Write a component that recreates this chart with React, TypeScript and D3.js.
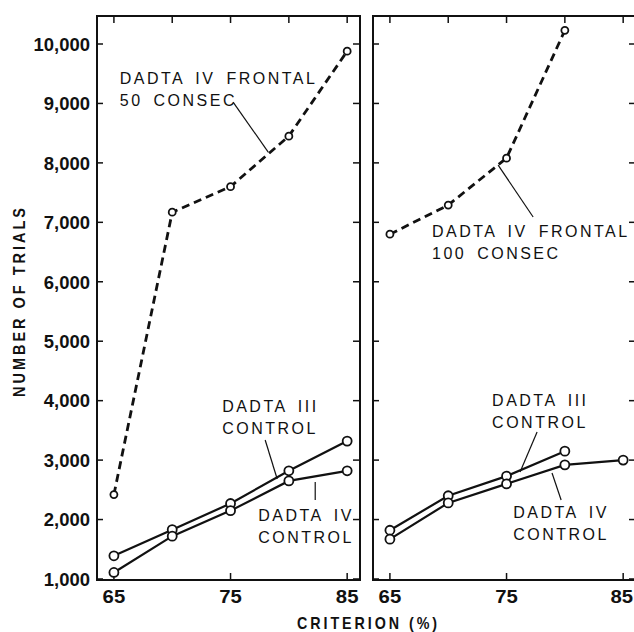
import React from 'react';
import * as d3 from 'd3';

// criterion (%) values on the x axis
const criteria = [65, 70, 75, 80, 85];
const xTickLabels = [65, 75, 85];
const yTicks = [1000, 2000, 3000, 4000, 5000, 6000, 7000, 8000, 9000, 10000];

// left panel
const frontal50 = [2420, 7170, 7600, 8450, 9880];
const dadta3CtrlLeft = [1390, 1830, 2270, 2820, 3320];
const dadta4CtrlLeft = [1110, 1720, 2150, 2650, 2820];

// right panel
const frontal100 = [6800, 7290, 8080, 10230];
const dadta3CtrlRight = [1820, 2400, 2730, 3150];
const dadta4CtrlRight = [1670, 2280, 2600, 2920, 3000];

const W = 634, H = 632;
const top = 16, bottom = 580;
const xDomain: [number, number] = [63.55, 86.1];
const yScale = d3.scaleLinear().domain([983, 10471]).range([bottom, top]);
const xLeft = d3.scaleLinear().domain(xDomain).range([97, 360]);
const xRight = d3.scaleLinear().domain(xDomain).range([373, 636]);

const numFont = "'Liberation Sans', Arial, sans-serif";
const labelFont = "'Liberation Sans', Arial, sans-serif";

// narrow bold digits, like the typewriter-ish original
const numWidth = (s: string) => s.split('').reduce((w, ch) => w + (ch === ',' ? 5 : 10.3), 0);

type Ann = { lines: string[]; at: [number, number]; leader: [number, number][] };

const leftNotes: Ann[] = [
  { lines: ['DADTA IV FRONTAL', '50 CONSEC'], at: [65.5, 9330], leader: [[75.22, 9023], [78.23, 8182]] },
  { lines: ['DADTA III', 'CONTROL'], at: [74.28, 3810], leader: [[77.97, 3338], [79.0, 2682]] },
  { lines: ['DADTA IV', 'CONTROL'], at: [77.37, 1975], leader: [[82.26, 2631], [82.26, 2329]] },
];
const rightNotes: Ann[] = [
  { lines: ['DADTA IV FRONTAL', '100 CONSEC'], at: [68.61, 6752], leader: [[77.28, 7089], [74.28, 7963]] },
  { lines: ['DADTA III', 'CONTROL'], at: [73.76, 3910], leader: [[77.62, 3472], [76.16, 2800]] },
  { lines: ['DADTA IV', 'CONTROL'], at: [75.57, 2026], leader: [[78.9, 2783], [79.68, 2329]] },
];

type Series = { values: number[]; dashed: boolean; r: number };

const Panel = ({ x, series, notes, showY }: { x: d3.ScaleLinear<number, number>; series: Series[]; notes: Ann[]; showY: boolean }) => {
  const [x0, x1] = x.range();
  const line = (vals: number[]) =>
    d3.line<number>().x((_, i) => x(criteria[i])).y(d => yScale(d))(vals) || '';
  return (
    <g>
      <rect x={x0} y={top} width={x1 - x0} height={bottom - top} fill="none" stroke="#111" strokeWidth={2} />
      {yTicks.map(t => {
        const s = d3.format(',')(t);
        return (
          <g key={t}>
            <line x1={x0} x2={x0 + 6} y1={yScale(t)} y2={yScale(t)} stroke="#111" strokeWidth={1.5} />
            <line x1={x1} x2={x1 - 7} y1={yScale(t)} y2={yScale(t)} stroke="#111" strokeWidth={1.5} />
            {showY && (
              <text x={x0 - 7 - numWidth(s)} y={yScale(t)} dy="0.36em" fontFamily={numFont}
                fontWeight="bold" fontSize={19} textLength={numWidth(s)} lengthAdjust="spacingAndGlyphs"
                fill="#111">{s}</text>
            )}
          </g>
        );
      })}
      {criteria.map(c => (
        <line key={c} x1={x(c)} x2={x(c)} y1={top} y2={top + 7} stroke="#111" strokeWidth={1.5} />
      ))}
      {xTickLabels.map(c => {
        const s = String(c);
        const w = numWidth(s) + 2;
        const cx = Math.min(x(c), W - 1 - w / 2);
        return (
          <g key={c}>
            <line x1={x(c)} x2={x(c)} y1={bottom} y2={bottom - 7} stroke="#111" strokeWidth={1.5} />
            <text x={cx - w / 2} y={603} fontFamily={numFont} fontWeight="bold" fontSize={19}
              textLength={w} lengthAdjust="spacingAndGlyphs" fill="#111">{s}</text>
          </g>
        );
      })}
      {series.map((s, i) => (
        <g key={i}>
          <path d={line(s.values)} fill="none" stroke="#111" strokeWidth={s.dashed ? 2.8 : 2.2}
            strokeDasharray={s.dashed ? '8 5' : undefined} />
          {s.values.map((v, j) => (
            <circle key={j} cx={x(criteria[j])} cy={yScale(v)} r={s.r} fill="#fff" stroke="#111" strokeWidth={1.8} />
          ))}
        </g>
      ))}
      {notes.map((n, i) => (
        <g key={i}>
          <line x1={x(n.leader[0][0])} y1={yScale(n.leader[0][1])} x2={x(n.leader[1][0])} y2={yScale(n.leader[1][1])}
            stroke="#111" strokeWidth={1.2} />
          {n.lines.map((l, k) => (
            <text key={k} x={x(n.at[0])} y={yScale(n.at[1]) + k * 22} fontFamily={labelFont} fontSize={16}
              letterSpacing={2.5} wordSpacing={4} fill="#111">{l}</text>
          ))}
        </g>
      ))}
    </g>
  );
};

export default function App() {
  return (
    <svg width={W} height={H} style={{ position: 'absolute', left: 0, top: 0, background: '#fff' }}>
      <rect width={W} height={H} fill="#fff" />
      <Panel x={xLeft} showY notes={leftNotes} series={[
        { values: frontal50, dashed: true, r: 3.5 },
        { values: dadta3CtrlLeft, dashed: false, r: 4.5 },
        { values: dadta4CtrlLeft, dashed: false, r: 4.5 },
      ]} />
      <Panel x={xRight} showY={false} notes={rightNotes} series={[
        { values: frontal100, dashed: true, r: 3.5 },
        { values: dadta3CtrlRight, dashed: false, r: 4.5 },
        { values: dadta4CtrlRight, dashed: false, r: 4.5 },
      ]} />
      <text x={297} y={629} fontFamily={numFont} fontWeight="bold" fontSize={17} letterSpacing={3.5}
        textLength={143} lengthAdjust="spacingAndGlyphs" fill="#111">CRITERION (%)</text>
      <text transform="translate(25,397) rotate(-90)" fontFamily={numFont} fontWeight="bold" letterSpacing={3.5}
        fontSize={17} textLength={192} lengthAdjust="spacingAndGlyphs" fill="#111">NUMBER OF TRIALS</text>
    </svg>
  );
}
